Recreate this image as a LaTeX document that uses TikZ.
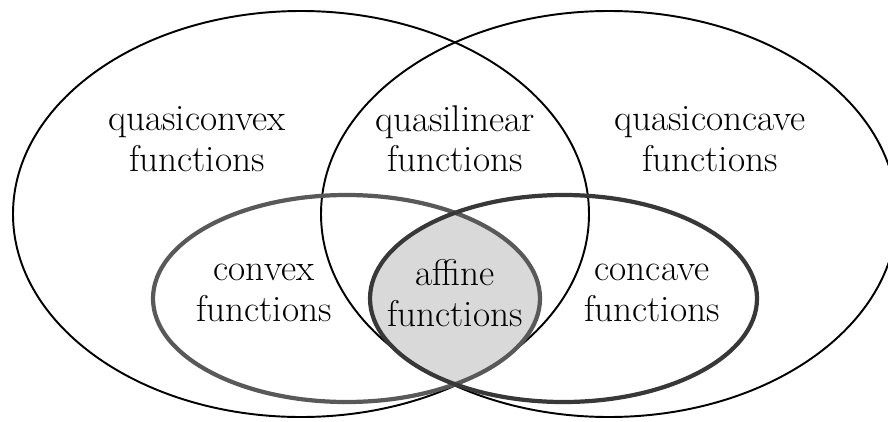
\documentclass[tikz,border=0pt]{standalone}
\usepackage{tikz}
\usetikzlibrary{positioning}
\tikzstyle{every node}+=[inner sep=0pt]
\tikzstyle{quasi} = [draw=black, line width=1.1pt]
\tikzstyle{strict} = [line width=2.4pt]
\tikzstyle{setname} = [font=\fontsize{21.2}{23}\selectfont, text centered, align=center]

\begin{document}
\begin{tikzpicture}
            \useasboundingbox (0,0) rectangle (17.76,8.42);
            % Fill the affine region
            \begin{scope}
              \clip (6.93,2.45) ellipse [x radius=3.87cm, y radius=2.07cm];
              \fill [gray!30] (11.27,2.45) ellipse [x radius=3.87cm, y radius=2.07cm];
            \end{scope}
            % Draw sets
            \draw [quasi] (6.02,4.14) ellipse [x radius=5.76cm, y radius=4.06cm];
            \draw [quasi] (12.18,4.14) ellipse [x radius=5.76cm, y radius=4.06cm];
            \draw [strict, draw=black!65] (6.93,2.45) ellipse [x radius=3.87cm, y radius=2.07cm];
            \draw [strict, draw=black!78] (11.27,2.45) ellipse [x radius=3.87cm, y radius=2.07cm];
            % Place labels
            \node [setname] (qlin) at (9.10,5.64) {quasilinear\\functions};
            \node [setname, left=5.16cm of qlin.center, anchor=center] (qvex) {quasiconvex\\functions};
            \node [setname, right=5.1cm of qlin.center, anchor=center] (qcav) {quasiconcave\\functions};
            \node [setname] (aff) at (9.10,2.56) {affine\\functions};
            \node [setname, left=3.82cm of aff.center, anchor=center] (vex) {convex\\functions};
            \node [setname, right=3.94cm of aff.center, anchor=center] (cav) {concave\\functions};
\end{tikzpicture}
\end{document}
